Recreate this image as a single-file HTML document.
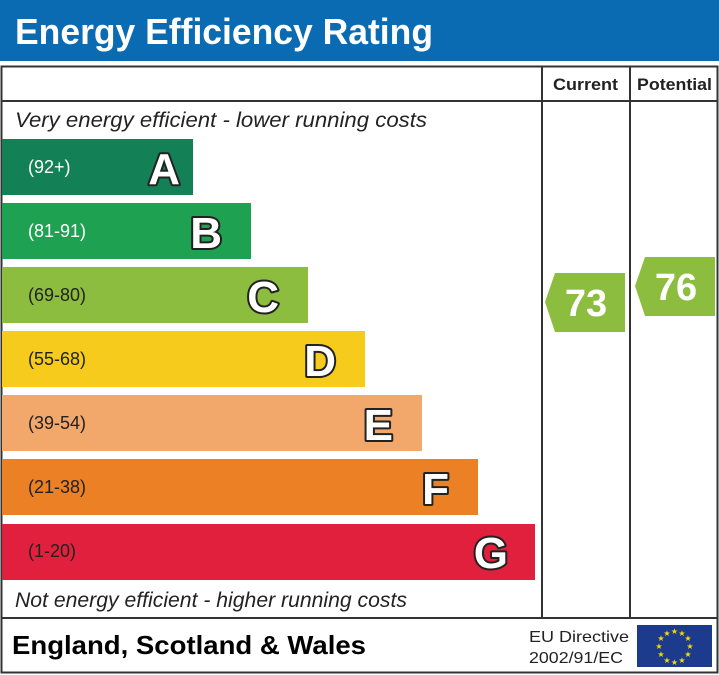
<!DOCTYPE html>
<html><head><style>body{margin:0;background:#fff}svg{display:block}</style></head><body>
<svg width="719" height="675" xmlns="http://www.w3.org/2000/svg" font-family="Liberation Sans, sans-serif">
<rect x="0" y="0" width="719" height="61" fill="#0a6bb3"/>
<text x="15" y="44" font-size="36" font-weight="bold" fill="#fff" textLength="418" lengthAdjust="spacingAndGlyphs">Energy Efficiency Rating</text>
<rect x="1.5" y="66.5" width="716" height="606" fill="none" stroke="#333" stroke-width="2"/>
<line x1="1" y1="101" x2="718" y2="101" stroke="#333" stroke-width="2"/>
<line x1="542" y1="66" x2="542" y2="618" stroke="#333" stroke-width="2"/>
<line x1="630" y1="66" x2="630" y2="618" stroke="#333" stroke-width="2"/>
<line x1="1" y1="618" x2="718" y2="618" stroke="#333" stroke-width="2"/>
<text x="553" y="90" font-size="17" font-weight="bold" fill="#222" textLength="65" lengthAdjust="spacingAndGlyphs">Current</text>
<text x="637" y="90" font-size="17" font-weight="bold" fill="#222" textLength="75" lengthAdjust="spacingAndGlyphs">Potential</text>
<text x="15" y="127" font-size="21" font-style="italic" fill="#222" textLength="412" lengthAdjust="spacingAndGlyphs">Very energy efficient - lower running costs</text>
<text x="15" y="607" font-size="21" font-style="italic" fill="#222" textLength="392" lengthAdjust="spacingAndGlyphs">Not energy efficient - higher running costs</text>
<g font-size="46" font-weight="bold" text-anchor="end" fill="#fff" stroke="#222" stroke-width="4" paint-order="stroke fill" stroke-linejoin="round">
</g>
<rect x="2" y="139" width="191" height="56" fill="#138055"/>
<rect x="2" y="203" width="249" height="56" fill="#1ea150"/>
<rect x="2" y="267" width="306" height="56" fill="#8dbd3f"/>
<rect x="2" y="331" width="363" height="56" fill="#f6cb1b"/>
<rect x="2" y="395" width="420" height="56" fill="#f3a86b"/>
<rect x="2" y="459" width="476" height="56" fill="#ec8024"/>
<rect x="2" y="524" width="533" height="56" fill="#e0203c"/>
<g font-size="18">
<text x="28" y="173" fill="#fff">(92+)</text>
<text x="28" y="237" fill="#fff">(81-91)</text>
<text x="28" y="301" fill="#222">(69-80)</text>
<text x="28" y="365" fill="#222">(55-68)</text>
<text x="28" y="429" fill="#222">(39-54)</text>
<text x="28" y="493" fill="#222">(21-38)</text>
<text x="28" y="557" fill="#222">(1-20)</text>
</g>
<g font-size="44" font-weight="bold" text-anchor="end" fill="#fff" stroke="#222" stroke-width="4" paint-order="stroke fill" stroke-linejoin="round">
<text x="180" y="184">A</text>
<text x="222" y="248">B</text>
<text x="279" y="312">C</text>
<text x="336" y="376">D</text>
<text x="393" y="440">E</text>
<text x="449" y="504">F</text>
<text x="508" y="568">G</text>
</g>
<polygon points="555,273 625,273 625,332 555,332 545,302" fill="#8dbd3f"/>
<text x="586" y="316" font-size="38" font-weight="bold" text-anchor="middle" fill="#fff">73</text>
<polygon points="645,257 715,257 715,316 645,316 635,286" fill="#8dbd3f"/>
<text x="676" y="300" font-size="38" font-weight="bold" text-anchor="middle" fill="#fff">76</text>
<text x="12" y="654" font-size="26" font-weight="bold" fill="#000" textLength="354" lengthAdjust="spacingAndGlyphs">England, Scotland &amp; Wales</text>
<text x="529" y="642" font-size="16" fill="#222" textLength="100" lengthAdjust="spacingAndGlyphs">EU Directive</text>
<text x="529" y="663" font-size="16" fill="#222" textLength="94" lengthAdjust="spacingAndGlyphs">2002/91/EC</text>
<rect x="637" y="625" width="75" height="42" fill="#1d3b8c"/>
<g fill="#f5d90a" font-size="8" text-anchor="middle">
<text x="674.5" y="634">★</text><text x="674.5" y="665">★</text>
<text x="659" y="649">★</text><text x="690" y="649">★</text>
<text x="667" y="636">★</text><text x="682" y="636">★</text>
<text x="667" y="663">★</text><text x="682" y="663">★</text>
<text x="661" y="641">★</text><text x="688" y="641">★</text>
<text x="661" y="657">★</text><text x="688" y="657">★</text>
</g>
</svg>
</body></html>
